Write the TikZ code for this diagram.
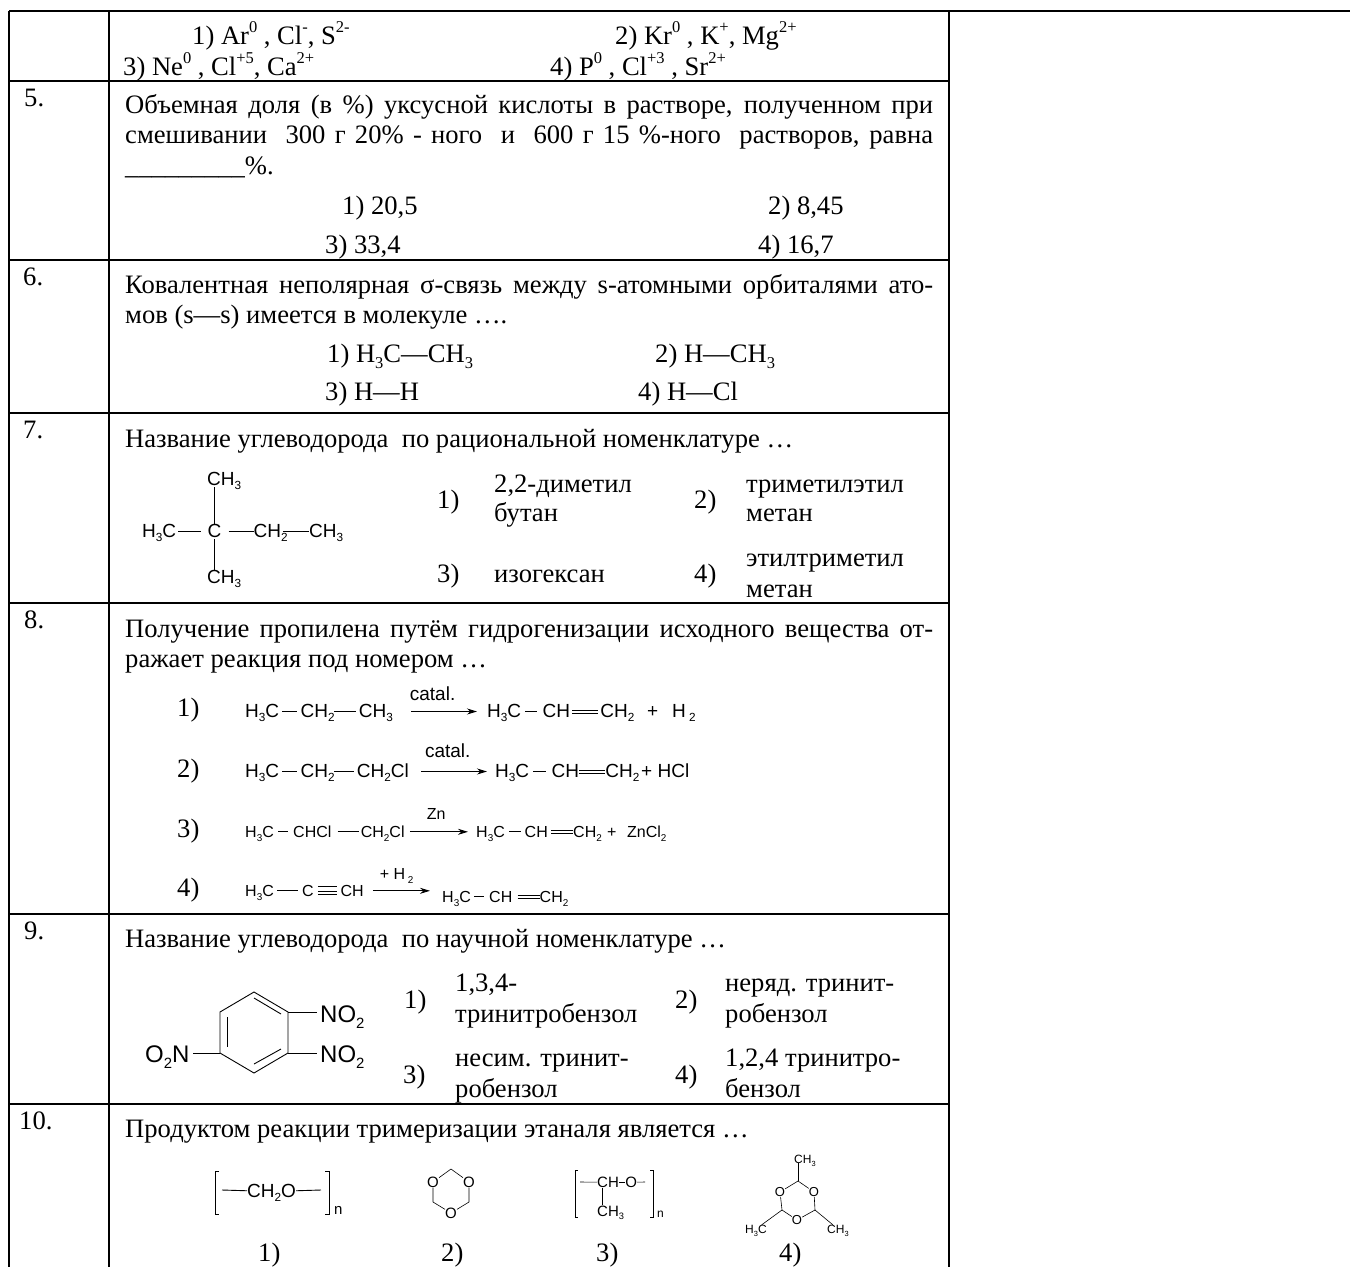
\documentclass[tikz,border=0pt]{standalone}
\usepackage{fontspec,graphicx}
\setmainfont{Liberation Serif}
\setsansfont{Liberation Sans}
\usetikzlibrary{positioning}
\usetikzlibrary{arrows.meta}
\newcommand{\dn}[1]{\raisebox{-.25em}{\scalebox{.62}{#1}}}
\newcommand{\up}[1]{\raisebox{.45em}{\scalebox{.62}{#1}}}
\newcommand{\fs}[1]{\fontsize{#1}{#1}\selectfont}
\tikzset{
  grid/.style={line width=1.8pt},
  txt/.style={anchor=base west,inner sep=0,font=\fs{26.6}},
  chem/.style={anchor=base west,inner sep=0,font=\sffamily\fs{19},text height=13pt,text depth=2pt},
  chemm/.style={chem,font=\sffamily\fs{16},text height=12pt,text depth=1.6pt},
  chemb/.style={chem,font=\sffamily\fs{24},text height=16pt,text depth=2pt},
  chems/.style={chem,font=\sffamily\fs{15},text height=9.5pt,text depth=0pt},
  chemt/.style={chem,font=\sffamily\fs{12},text height=8pt,text depth=0pt},
  ato/.style={inner sep=0,font=\sffamily\fs{15}},
  atot/.style={inner sep=0,font=\sffamily\fs{13}},
  bond/.style={line width=.9pt},
  thin bond/.style={line width=.6pt},
  uppr/.style={bond,transform canvas={yshift=1.5pt}},
  lowr/.style={bond,transform canvas={yshift=-1.5pt}},
  arr/.style={line width=.9pt,-{Stealth[length=10pt,width=6pt]}},
}
\begin{document}
\begin{tikzpicture}[x=1pt,y=-1pt]
  \useasboundingbox (0,0) rectangle (1350,1267);
  % table lines
  \draw[grid] (9,11) -- (1350,11);
  \draw[grid] (9,11) -- (9,1267);
  \draw[grid] (109,11) -- (109,1267);
  \draw[grid] (949,11) -- (949,1267);
  \draw[grid] (9,81) -- (949,81);
  \draw[grid] (9,260) -- (949,260);
  \draw[grid] (9,413) -- (949,413);
  \draw[grid] (9,603) -- (949,603);
  \draw[grid] (9,914) -- (949,914);
  \draw[grid] (9,1104) -- (949,1104);
  % row 4
  \node[txt] (o1a) at (192,44) {1) Ar\up{0} , Cl\up{-}, S\up{2-}};
  \node[txt] (o2a) at (615,44) {2) Kr\up{0} , K\up{+}, Mg\up{2+}};
  \node[txt] (o3a) at (123,75) {3) Ne\up{0} , Cl\up{+5}, Ca\up{2+}};
  \node[txt] (o4a) at (550,75) {4) P\up{0} , Cl\up{+3} , Sr\up{2+}};
  % row 5
  \node[txt] (n5) at (24,106) {5.};
  \node[txt] (q5a) at (125,113) {\makebox[808pt][s]{Объемная доля (в \%) уксусной кислоты в растворе, полученном при}};
  \node[txt] (q5b) at (125,143) {\makebox[808pt][s]{смешивании \ 300 г 20\% - ного \ и \ 600 г 15 \%-ного \ растворов, равна}};
  \node[txt] (q5c) at (125,174) {\_\_\_\_\_\_\_\_\_\%.};
  \node[txt] (o1b) at (342,214) {1) 20,5};
  \node[txt] (o2b) at (768,214) {2) 8,45};
  \node[txt] (o3b) at (325,253) {3) 33,4};
  \node[txt] (o4b) at (758,253) {4) 16,7};
  % row 6
  \node[txt] (n6) at (23,285) {6.};
  \node[txt] (q6a) at (125,293) {\makebox[808pt][s]{Ковалентная неполярная σ-связь между s-атомными орбиталями ато-}};
  \node[txt] (q6b) at (125,323) {мов (s—s) имеется в молекуле ….};
  \node[txt] (o1c) at (327,362) {1) H\dn{3}C—CH\dn{3}};
  \node[txt] (o2c) at (655,362) {2) H—CH\dn{3}};
  \node[txt] (o3c) at (325,400) {3) H—H};
  \node[txt] (o4c) at (638,400) {4) H—Cl};
  % row 7
  \node[txt] (n7) at (23,438) {7.};
  \node[txt] (q7a) at (125,447) {Название углеводорода \ по рациональной номенклатуре …};
  \node[chem] (c1) at (142,537) {H\dn{3}C};
  \node[chem] (c2) [base right=31pt of c1] {C};
  \node[chem] (c3) [base right=32pt of c2] {CH\dn{2}};
  \node[chem] (c4) [base right=21pt of c3] {CH\dn{3}};
  \node[chem] (c5) at (207,485) {CH\dn{3}};
  \node[chem] (c6) at (207,583) {CH\dn{3}};
  \draw[bond,shorten <=2pt,shorten >=6pt] (c1) -- (c2);
  \draw[bond,shorten <=7pt] (c2) -- (c3);
  \draw[bond,shorten <=-5pt] (c3) -- (c4);
  \draw[bond] (c2.north) -- (c5.south -| c2.north);
  \draw[bond] (c2.south) -- (c6.north -| c2.south);
  \node[txt] (o1d) at (437,508) {1)};
  \node[txt] (t1a) at (494,492) {2,2-диметил};
  \node[txt] (t1b) at (494,521) {бутан};
  \node[txt] (o2d) at (694,508) {2)};
  \node[txt] (t2a) at (746,492) {триметилэтил};
  \node[txt] (t2b) at (746,521) {метан};
  \node[txt] (o3d) at (437,582) {3)};
  \node[txt] (t3a) at (494,582) {изогексан};
  \node[txt] (o4d) at (694,582) {4)};
  \node[txt] (t4a) at (746,566) {этилтриметил};
  \node[txt] (t4b) at (746,597) {метан};
  % row 8
  \node[txt] (n8) at (24,628) {8.};
  \node[txt] (q8a) at (125,637) {\makebox[808pt][s]{Получение пропилена путём гидрогенизации исходного вещества от-}};
  \node[txt] (q8b) at (125,667) {ражает реакция под номером …};
  \node[txt] (o1e) at (177,716) {1)};
  \node[txt] (o2e) at (177,777) {2)};
  \node[txt] (o3e) at (177,837) {3)};
  \node[txt] (o4e) at (177,896) {4)};
  % reaction 1
  \node[chem] (a1) at (245,717) {H\dn{3}C};
  \node[chem] (a2) [base right=21pt of a1] {CH\dn{2}};
  \node[chem] (a3) [base right=24pt of a2] {CH\dn{3}};
  \node[chem] (a4) at (487,717) {H\dn{3}C};
  \node[chem] (a5) [base right=21pt of a4] {CH};
  \node[chem] (a6) [base right=30pt of a5] {CH\dn{2}};
  \node[chem] (a7) at (647,717) {+};
  \node[chem] (a8) at (672,717) {H\,\dn{2}};
  \draw[bond,shorten <=3pt,shorten >=3pt] (a1) -- (a2);
  \draw[bond,shorten <=-1pt,shorten >=3pt] (a2) -- (a3);
  \draw[arr,shorten <=18pt,shorten >=10pt] (a3) -- node (k1) [pos=.42,above=8.5pt,chem,anchor=south] {catal.} (a4);
  \draw[bond,shorten <=4pt,shorten >=5pt] (a4) -- (a5);
  \draw[uppr,shorten <=2pt,shorten >=2pt] (a5) -- (a6);
  \draw[lowr,shorten <=2pt,shorten >=2pt] (a5) -- (a6);
  % reaction 2
  \node[chem] (b1) at (245,777) {H\dn{3}C};
  \node[chem] (b2) [base right=21pt of b1] {CH\dn{2}};
  \node[chem] (b3) [base right=22pt of b2] {CH\dn{2}Cl};
  \node[chem] (b4) at (495,777) {H\dn{3}C};
  \node[chem] (b5) [base right=22pt of b4] {CH};
  \node[chem] (b6) [base right=26pt of b5] {CH\dn{2}};
  \node[chem] (b7) at (641,777) {+ HCl};
  \draw[bond,shorten <=3pt,shorten >=3pt] (b1) -- (b2);
  \draw[bond,shorten <=-1pt,shorten >=3pt] (b2) -- (b3);
  \draw[arr,shorten <=12pt,shorten >=8pt] (b3) -- node (k2) [pos=.45,above=11.5pt,chem,anchor=south] {catal.} (b4);
  \draw[bond,shorten <=4pt,shorten >=5pt] (b4) -- (b5);
  \draw[uppr] (b5) -- (b6);
  \draw[lowr] (b5) -- (b6);
  % reaction 3
  \node[chemm] (d1) at (245,837) {H\dn{3}C};
  \node[chemm] (d2) [base right=19pt of d1] {CHCl};
  \node[chemm] (d3) [base right=29pt of d2] {CH\dn{2}Cl};
  \node[chemm] (d4) at (476,837) {H\dn{3}C};
  \node[chemm] (d5) [base right=19.5pt of d4] {CH};
  \node[chemm] (d6) [base right=25pt of d5] {CH\dn{2}};
  \node[chemm] (d7) at (607,837) {+};
  \node[chemm] (d8) at (627,837) {ZnCl\dn{2}};
  \draw[bond,shorten <=4pt,shorten >=5pt] (d1) -- (d2);
  \draw[bond,shorten <=6pt,shorten >=2pt] (d2) -- (d3);
  \draw[arr,shorten <=5pt,shorten >=8pt] (d3) -- node (k3) [pos=.44,above=10pt,chemm,anchor=south] {Zn} (d4);
  \draw[bond,shorten <=4pt,shorten >=4pt] (d4) -- (d5);
  \draw[uppr,shorten <=3pt] (d5) -- (d6);
  \draw[lowr,shorten <=3pt] (d5) -- (d6);
  % reaction 4
  \node[chemm] (e1) at (245,896) {H\dn{3}C};
  \node[chemm] (e2) [base right=28pt of e1] {C};
  \node[chemm] (e3) [base right=26.4pt of e2] {CH};
  \node[chemm] (e4) at (442,902) {H\dn{3}C};
  \node[chemm] (e5) [base right=18pt of e4] {CH};
  \node[chemm] (e6) [base right=27pt of e5] {CH\dn{2}};
  \draw[bond,shorten <=3pt,shorten >=4pt] (e1) -- (e2);
  \draw[uppr,transform canvas={yshift=2.5pt},shorten <=4pt,shorten >=3pt] (e2) -- (e3);
  \draw[thin bond,shorten <=4pt,shorten >=3pt] (e2) -- (e3);
  \draw[lowr,transform canvas={yshift=-2.5pt},shorten <=4pt,shorten >=3pt] (e2) -- (e3);
  \draw[arr,shorten <=9pt,shorten >=12pt] (e3.east) -- node (k4) [pos=.42,above=9pt,chemm,anchor=south] {+ H\,\dn{2}} (e3.east -| e4.west);
  \draw[bond,shorten <=3pt,shorten >=5pt] (e4) -- (e5);
  \draw[uppr,shorten <=5pt] (e5) -- (e6);
  \draw[lowr,shorten <=5pt] (e5) -- (e6);
  % row 9
  \node[txt] (n9) at (24,939) {9.};
  \node[txt] (q9a) at (125,947) {Название углеводорода \ по научной номенклатуре …};
  \coordinate (r1) at (254,992);
  \coordinate (r2) at (288,1012);
  \coordinate (r3) at (288,1053);
  \coordinate (r4) at (254,1073);
  \coordinate (r5) at (220,1053);
  \coordinate (r6) at (220,1012);
  \coordinate (s1) at (227,1017);
  \coordinate (s2) at (227,1047);
  \coordinate (s3) at (254,998);
  \coordinate (s4) at (281,1014);
  \coordinate (s5) at (254,1064);
  \coordinate (s6) at (281,1049);
  \draw[bond] (r1) -- (r2) -- (r3) -- (r4) -- (r5) -- (r6) -- cycle;
  \draw[bond] (s1) -- (s2);
  \draw[bond] (s3) -- (s4);
  \draw[bond] (s5) -- (s6);
  \node[chemb] (g1) at (320,1022) {NO\dn{2}};
  \node[chemb] (g2) at (320,1062) {NO\dn{2}};
  \node[chemb] (g3) at (145,1062) {O\dn{2}N};
  \draw[bond,shorten >=3pt] (r2) -- (r2 -| g1.west);
  \draw[bond,shorten >=3pt] (r3) -- (r3 -| g2.west);
  \draw[bond,shorten >=3pt] (r5) -- (r5 -| g3.east);
  \node[txt] (o1f) at (404,1008) {1)};
  \node[txt] (t5a) at (455,991) {1,3,4-};
  \node[txt] (t5b) at (455,1022) {тринитробензол};
  \node[txt] (o2f) at (675,1008) {2)};
  \node[txt] (t6a) at (725,991) {неряд. тринит-};
  \node[txt] (t6b) at (725,1022) {робензол};
  \node[txt] (o3f) at (403,1083) {3)};
  \node[txt] (t7a) at (455,1066) {несим. тринит-};
  \node[txt] (t7b) at (455,1097) {робензол};
  \node[txt] (o4f) at (675,1083) {4)};
  \node[txt] (t8a) at (725,1066) {1,2,4 тринитро-};
  \node[txt] (t8b) at (725,1097) {бензол};
  % row 10
  \node[txt] (n10) at (19,1129) {10.};
  \node[txt] (q10a) at (125,1137) {Продуктом реакции тримеризации этаналя является …};
  % product 1
  \node[chem] (f1) at (247,1197) {CH\dn{2}O};
  \coordinate (f2) at (222,1190);
  \coordinate (f3) at (321,1190);
  \draw[bond] (f2) -- (f1);
  \draw[bond] (f1) -- (f3);
  \draw[bond] (219,1171) -- (215,1171) -- (215,1214) -- (219,1214);
  \draw[bond] (325,1171) -- (329,1171) -- (329,1214) -- (325,1214);
  \node[chems] (f4) at (334,1214) {n};
  % product 2
  \node[ato] (h1) at (433,1182) {O};
  \node[ato] (h2) at (469,1182) {O};
  \node[ato] (h3) at (451,1213) {O};
  \coordinate (h4) at (451,1169);
  \coordinate (h5) at (433,1202);
  \coordinate (h6) at (469,1202);
  \draw[thin bond] (h1) -- (h4) -- (h2) -- (h6) -- (h3) -- (h5) -- (h1);
  % product 3
  \node[chems] (i1) at (597,1187) {CH};
  \node[chems] (i2) [base right=6pt of i1] {O};
  \node[chems] (i3) at (597,1216) {CH\dn{3}};
  \coordinate (i4) at (580,1182);
  \coordinate (i5) at (645,1182);
  \coordinate (i7) at (602,1188);
  \coordinate (i8) at (602,1205);
  \draw[thin bond] (i4) -- (i1);
  \draw[thin bond] (i1) -- (i2);
  \draw[thin bond] (i2) -- (i5);
  \draw[thin bond] (i7) -- (i8);
  \draw[thin bond] (578,1170) -- (575,1170) -- (575,1217) -- (578,1217);
  \draw[thin bond] (650,1170) -- (653,1170) -- (653,1217) -- (650,1217);
  \node[chemt] (i6) at (657,1217) {n};
  % product 4
  \node[atot] (j1) at (780,1192) {O};
  \node[atot] (j2) at (814,1192) {O};
  \node[atot] (j3) at (797,1220) {O};
  \coordinate (j4) at (798,1181);
  \coordinate (j5) at (782,1210);
  \coordinate (j6) at (815,1210);
  \node[chemt] (j7) at (794,1163) {CH\dn{3}};
  \node[chemt] (j8) at (745,1233) {H\dn{3}C};
  \node[chemt] (j9) at (827,1233) {CH\dn{3}};
  \draw[thin bond] (j1) -- (j4) -- (j2) -- (j6) -- (j3) -- (j5) -- (j1);
  \draw[thin bond] (j4) -- (j4 |- j7.south);
  \draw[thin bond] (j5) -- (j8);
  \draw[thin bond] (j6) -- (j9);
  \node[txt] (o1g) at (258,1261) {1)};
  \node[txt] (o2g) at (441,1261) {2)};
  \node[txt] (o3g) at (596,1261) {3)};
  \node[txt] (o4g) at (779,1261) {4)};
\end{tikzpicture}
\end{document}
